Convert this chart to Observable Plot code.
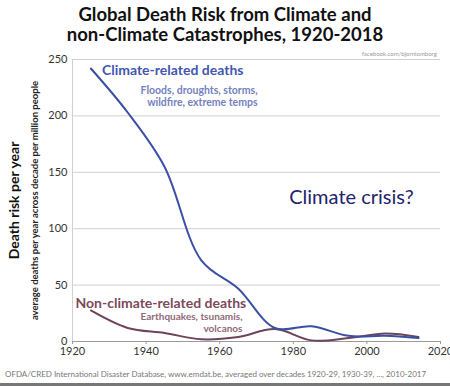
<!DOCTYPE html>
<html><head><meta charset="utf-8">
<script src="https://cdn.jsdelivr.net/npm/d3@7"></script>
<script src="https://cdn.jsdelivr.net/npm/@observablehq/plot@0.6"></script>
<style>
html,body{margin:0;padding:0;background:#fff;width:450px;height:386px;overflow:hidden;font-family:Lato,"Open Sans",sans-serif;}
#title{height:44px;text-align:center;font-weight:bold;font-size:18.5px;line-height:20px;color:#111;padding-top:4px;box-sizing:border-box;white-space:nowrap;}
#chart svg{overflow:visible;display:block;}
#caption{font-size:8px;color:#777;padding-left:5px;margin-top:5px;white-space:nowrap;}
#bar{position:absolute;left:0;top:383px;width:450px;height:3px;background:#777;}
</style></head>
<body>
<div id="title">Global Death Risk from Climate and<br>non-Climate Catastrophes, 1920-2018</div>
<div id="chart"></div>
<div id="caption">OFDA/CRED International Disaster Database, www.emdat.be, averaged over decades 1920-29, 1930-39, ..., 2010-2017</div>
<div id="bar"></div>
<script>
const years = [1925, 1935, 1945, 1955, 1965, 1975, 1985, 1995, 2005, 2014];
const climateDeaths = [242, 203, 155, 72, 47, 12, 13.5, 5, 5, 3];
const nonClimateDeaths = [27.5, 12, 7.5, 2, 4, 11, 1, 3, 7, 4];
const yTicks = [0, 50, 100, 150, 200, 250];
const xTicks = [1920, 1940, 1960, 1980, 2000, 2020];

const climate = years.map((y, i) => ({year: y, value: climateDeaths[i]}));
const nonClimate = years.map((y, i) => ({year: y, value: nonClimateDeaths[i]}));

const font = "Lato, 'Open Sans', sans-serif";

const chart = Plot.plot({
  width: 450,
  height: 320,
  marginLeft: 72,
  marginRight: 10,
  marginTop: 15,
  marginBottom: 23,
  style: {fontFamily: font, background: "transparent", overflow: "visible"},
  x: {domain: [1920, 2020], label: null},
  y: {domain: [0, 250], label: null},
  marks: [
    Plot.gridY(yTicks, {stroke: "#d0d0d0", strokeOpacity: 1}),
    Plot.ruleX([1920], {stroke: "#d0d0d0"}),
    Plot.ruleY([0], {stroke: "#9a9a9a"}),
    Plot.axisX({ticks: xTicks, tickFormat: d => String(d), tickSize: 3, tickPadding: 3, fontSize: 11, fill: "#333", label: null, stroke: "#9a9a9a"}),
    Plot.axisY({ticks: yTicks, tickSize: 0, tickPadding: 5, fontSize: 11, fill: "#333", label: null}),
    // y-axis titles
    Plot.text(["Death risk per year"], {x: 1904.3, y: 125, rotate: -90, fontSize: 14, fontWeight: "bold", fill: "#111"}),
    Plot.text(["average deaths per year across decade per million people"], {x: 1909.9, y: 125, rotate: -90, fontSize: 9.5, fontWeight: "bold", fill: "#222"}),
    Plot.text(["facebook.com/bjornlomborg"], {x: 2019, y: 255, textAnchor: "end", fontSize: 6, fill: "#999"}),
    // data lines
    Plot.line(nonClimate, {x: "year", y: "value", curve: "catmull-rom", stroke: "#6e4458", strokeWidth: 2}),
    Plot.line(climate, {x: "year", y: "value", curve: "catmull-rom", stroke: "#3a4fa6", strokeWidth: 2}),
    // annotations
    Plot.text(["Climate-related deaths"], {x: 1928, y: 240, textAnchor: "start", fontSize: 14, fontWeight: "bold", fill: "#4257b0"}),
    Plot.text(["Floods, droughts, storms,\nwildfire, extreme temps"], {x: 1970.3, y: 217.5, textAnchor: "end", fontSize: 10.5, fontWeight: "bold", fill: "#7482bd", lineHeight: 1.2}),
    Plot.text(["Climate crisis?"], {x: 1995.8, y: 128, textAnchor: "middle", fontSize: 20, fill: "#23236e"}),
    Plot.text(["Non-climate-related deaths"], {x: 1920.8, y: 34, textAnchor: "start", fontSize: 14, fontWeight: "bold", fill: "#7b4a5c"}),
    Plot.text(["Earthquakes, tsunamis,\nvolcanos"], {x: 1966.2, y: 17, textAnchor: "end", fontSize: 10, fontWeight: "bold", fill: "#8e6a78", lineHeight: 1.2})
  ]
});
document.getElementById("chart").appendChild(chart);
</script>
</body></html>
